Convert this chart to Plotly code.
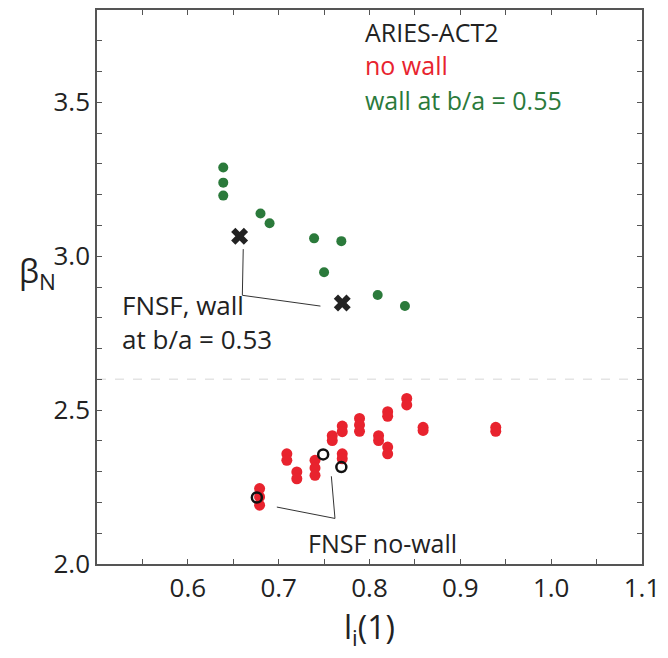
import plotly.graph_objects as go

# ---- data ----
green_x = [0.639, 0.639, 0.639, 0.680, 0.690, 0.739, 0.769, 0.750, 0.809, 0.839]
green_y = [3.288, 3.239, 3.197, 3.139, 3.107, 3.058, 3.049, 2.948, 2.874, 2.838]

red_x = [0.841, 0.841, 0.820, 0.820, 0.789, 0.789, 0.789, 0.859, 0.859, 0.939, 0.939,
         0.770, 0.770, 0.759, 0.759, 0.810, 0.810, 0.820, 0.820, 0.709, 0.709,
         0.770, 0.770, 0.720, 0.720, 0.740, 0.740, 0.740, 0.679, 0.679, 0.679]
red_y = [2.538, 2.517, 2.495, 2.480, 2.473, 2.452, 2.431, 2.444, 2.434, 2.444, 2.431,
         2.448, 2.430, 2.417, 2.401, 2.417, 2.401, 2.380, 2.358, 2.358, 2.337,
         2.358, 2.342, 2.299, 2.277, 2.337, 2.312, 2.288, 2.245, 2.218, 2.191]

fnsf_wall_x = [0.657, 0.770]
fnsf_wall_y = [3.065, 2.848]

fnsf_nowall_x = [0.749, 0.769, 0.676]
fnsf_nowall_y = [2.356, 2.315, 2.216]

lead_wall_x = [0.661, 0.660, 0.746]
lead_wall_y = [3.023, 2.873, 2.838]
lead_nowall_x = [0.698, 0.762, 0.758]
lead_nowall_y = [2.185, 2.148, 2.285]

x_ticks = [0.6, 0.7, 0.8, 0.9, 1.0, 1.1]
x_ticklabels = ["0.6", "0.7", "0.8", "0.9", "1.0", "1.1"]
y_ticks = [2.0, 2.5, 3.0, 3.5]
y_ticklabels = ["2.0", "2.5", "3.0", "3.5"]

GREEN = "#2b7a3b"
RED = "#e8232e"
FONT = "Open Sans"

fig = go.Figure()

fig.add_trace(go.Scatter(x=lead_wall_x, y=lead_wall_y, mode="lines",
                         line=dict(color="#333", width=1), hoverinfo="skip", showlegend=False))
fig.add_trace(go.Scatter(x=lead_nowall_x, y=lead_nowall_y, mode="lines",
                         line=dict(color="#333", width=1), hoverinfo="skip", showlegend=False))

fig.add_trace(go.Scatter(x=green_x, y=green_y, mode="markers",
                         marker=dict(color=GREEN, size=10, symbol="circle"), showlegend=False))
fig.add_trace(go.Scatter(x=red_x, y=red_y, mode="markers",
                         marker=dict(color=RED, size=11, symbol="circle"), showlegend=False))
fig.add_trace(go.Scatter(x=fnsf_wall_x, y=fnsf_wall_y, mode="markers",
                         marker=dict(color="#222", size=15, symbol="x",
                                     line=dict(width=0)), showlegend=False))
fig.add_trace(go.Scatter(x=fnsf_nowall_x, y=fnsf_nowall_y, mode="markers",
                         marker=dict(color="#111", size=10, symbol="circle-open",
                                     line=dict(width=2.5, color="#111")), showlegend=False))

# faint dashed horizontal line
fig.add_shape(type="line", xref="paper", x0=0, x1=1, yref="y", y0=2.6, y1=2.6,
              line=dict(color="#e4e4e4", width=1.5, dash="dash"), layer="below")

ann_font = dict(family=FONT, size=26)
leg_font = dict(family=FONT, size=25)
fig.add_annotation(x=0.793, y=3.728, text="ARIES-ACT2", showarrow=False, xanchor="left",
                   yanchor="middle", font=dict(leg_font, color="#222"))
fig.add_annotation(x=0.793, y=3.622, text="no wall", showarrow=False, xanchor="left",
                   yanchor="middle", font=dict(leg_font, color=RED))
fig.add_annotation(x=0.793, y=3.508, text="wall at b/a = 0.55", showarrow=False, xanchor="left",
                   yanchor="middle", font=dict(leg_font, color=GREEN))
fig.add_annotation(x=0.525, y=2.786, text="FNSF, wall<br>at b/a = 0.53", showarrow=False,
                   xanchor="left", yanchor="middle", align="left",
                   font=dict(ann_font, color="#222"))
fig.add_annotation(x=0.814, y=2.068, text="FNSF no-wall", showarrow=False,
                   xanchor="center", yanchor="middle",
                   font=dict(family=FONT, size=25, color="#222"))

# axis titles
fig.add_annotation(xref="paper", yref="paper", x=-0.11, y=0.525, text="β<sub>N</sub>",
                   showarrow=False, xanchor="center", yanchor="middle",
                   font=dict(family=FONT, size=32, color="#222"))
fig.add_annotation(xref="paper", yref="paper", x=0.5, y=-0.118, text="l<sub>i</sub>(1)",
                   showarrow=False, xanchor="center", yanchor="middle",
                   font=dict(family=FONT, size=32, color="#222"))

axis_common = dict(showgrid=False, zeroline=False, showline=True, linecolor="#555",
                   linewidth=1.5, mirror="allticks", ticks="inside", ticklen=5,
                   tickcolor="#555", tickwidth=1, ticklabeloverflow="allow",
                   tickfont=dict(family=FONT, size=26, color="#222"))

fig.update_xaxes(range=[0.5, 1.1], tickvals=x_ticks, ticktext=x_ticklabels,
                 minor=dict(dtick=0.05, tick0=0.5, ticks="inside", ticklen=5,
                            tickcolor="#555"), **axis_common)
fig.update_yaxes(range=[2.0, 3.8], tickvals=y_ticks, ticktext=y_ticklabels,
                 minor=dict(dtick=0.1, tick0=2.0, ticks="inside", ticklen=5,
                            tickcolor="#555"), **axis_common)

fig.update_layout(width=668, height=658, margin=dict(l=97, r=16, t=8, b=94),
                  plot_bgcolor="white", paper_bgcolor="white", showlegend=False)

fig.write_html("out.html")
